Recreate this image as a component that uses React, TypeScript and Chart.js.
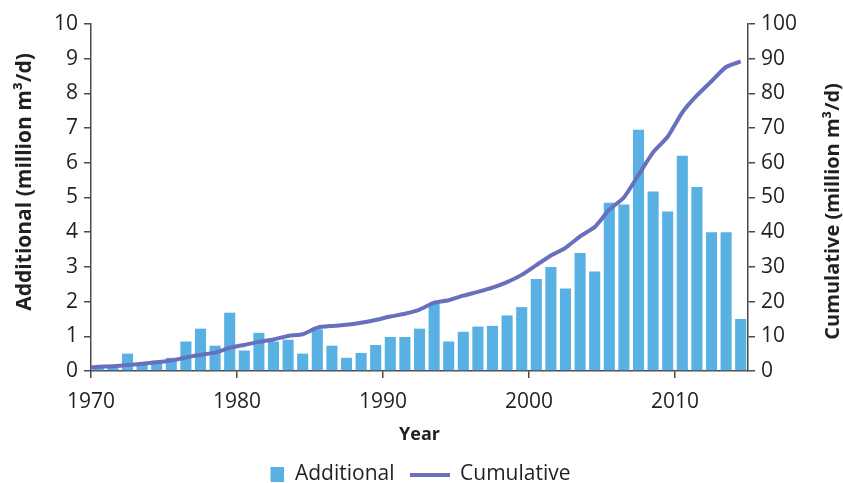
import React, { useEffect, useRef } from 'react';
import { Chart, registerables } from 'chart.js';

Chart.register(...registerables);

const years = [
  1970, 1971, 1972, 1973, 1974, 1975, 1976, 1977, 1978, 1979,
  1980, 1981, 1982, 1983, 1984, 1985, 1986, 1987, 1988, 1989,
  1990, 1991, 1992, 1993, 1994, 1995, 1996, 1997, 1998, 1999,
  2000, 2001, 2002, 2003, 2004, 2005, 2006, 2007, 2008, 2009,
  2010, 2011, 2012, 2013, 2014,
];

const additional = [
  0.1, 0.15, 0.5, 0.22, 0.3, 0.38, 0.85, 1.22, 0.73, 1.68,
  0.59, 1.1, 0.85, 0.9, 0.5, 1.2, 0.73, 0.38, 0.52, 0.75,
  0.98, 0.98, 1.22, 1.95, 0.85, 1.13, 1.28, 1.3, 1.6, 1.84,
  2.65, 3.0, 2.38, 3.4, 2.87, 4.85, 4.8, 6.95, 5.17, 4.6,
  6.2, 5.3, 4.0, 4.0, 1.5,
];

const cumulativeStart = { year: 1970, value: 1.0 };
const cumulative = [
  1.2, 1.4, 1.7, 2.1, 2.5, 3.0, 3.9, 4.7, 5.3, 6.7,
  7.5, 8.4, 9.1, 10.1, 10.6, 12.5, 13.0, 13.3, 13.9, 14.7,
  15.7, 16.5, 17.7, 19.7, 20.4, 21.7, 22.8, 24.0, 25.6, 27.7,
  30.5, 33.3, 35.5, 38.8, 41.5, 46.5, 50.0, 56.5, 63.0, 67.5,
  74.5, 79.4, 83.5, 87.6, 89.2,
];

const xTickYears = [1970, 1980, 1990, 2000, 2010];
const leftTitle = 'Additional (million m³/d)';
const rightTitle = 'Cumulative (million m³/d)';
const xTitle = 'Year';

const BAR_COLOR = '#58b0e3';
const LINE_COLOR = '#6870bd';
const AXIS_COLOR = '#4a4a4a';
const TEXT_COLOR = '#231f20';
const FONT = "'Open Sans', 'Noto Sans', sans-serif";

function makeSquareIcon(): HTMLCanvasElement {
  const c = document.createElement('canvas');
  c.width = 40;
  c.height = 15;
  const ctx = c.getContext('2d')!;
  ctx.fillStyle = BAR_COLOR;
  ctx.fillRect(26, 0, 14, 15);
  return c;
}

function makeLineIcon(): HTMLCanvasElement {
  const c = document.createElement('canvas');
  c.width = 40;
  c.height = 4;
  const ctx = c.getContext('2d')!;
  ctx.fillStyle = LINE_COLOR;
  ctx.fillRect(0, 0, 40, 4);
  return c;
}

const yTitlesPlugin = {
  id: 'yTitles',
  afterDraw(chart: any) {
    const { ctx, chartArea } = chart;
    const h = chartArea.bottom - chartArea.top;
    ctx.save();
    ctx.fillStyle = TEXT_COLOR;
    ctx.textAlign = 'center';
    ctx.textBaseline = 'middle';
    ctx.save();
    ctx.font = `bold 21px ${FONT}`;
    ctx.translate(25, chartArea.top + h * 0.455);
    ctx.rotate(-Math.PI / 2);
    ctx.fillText(leftTitle, 0, 0);
    ctx.restore();
    ctx.save();
    ctx.font = `bold 20px ${FONT}`;
    ctx.translate(chart.width - 10, chartArea.top + h * 0.54);
    ctx.rotate(-Math.PI / 2);
    ctx.fillText(rightTitle, 0, 0);
    ctx.restore();
    ctx.restore();
  },
};

export default function App() {
  const ref = useRef<HTMLCanvasElement | null>(null);

  useEffect(() => {
    document.body.style.margin = '0';
    if (!ref.current) return;
    const chart = new Chart(ref.current, {
      data: {
        datasets: [
          {
            type: 'bar',
            label: 'Additional',
            data: years.map((yr, i) => ({ x: yr + 0.5, y: additional[i] })),
            backgroundColor: BAR_COLOR,
            borderWidth: 0,
            barPercentage: 0.76,
            categoryPercentage: 1,
            yAxisID: 'y',
            xAxisID: 'x',
            order: 2,
            pointStyle: makeSquareIcon() as any,
          },
          {
            type: 'line',
            label: 'Cumulative',
            data: [
              { x: cumulativeStart.year, y: cumulativeStart.value },
              ...years.map((yr, i) => ({ x: yr + 0.5, y: cumulative[i] })),
            ],
            borderColor: LINE_COLOR,
            backgroundColor: LINE_COLOR,
            borderWidth: 4,
            pointRadius: 0,
            tension: 0.2,
            yAxisID: 'y1',
            xAxisID: 'x',
            order: 1,
            pointStyle: makeLineIcon() as any,
          },
        ] as any,
      },
      plugins: [yTitlesPlugin],
      options: {
        responsive: false,
        animation: false,
        layout: { padding: { top: 24, left: 0, right: 28, bottom: -12 } },
        plugins: {
          tooltip: { enabled: false },
          legend: {
            position: 'bottom',
            labels: {
              usePointStyle: true,
              pointStyleWidth: 40,
              boxHeight: 15,
              padding: 15,
              color: TEXT_COLOR,
              font: { family: FONT, size: 21 },
              sort: (a: any, b: any) => a.datasetIndex - b.datasetIndex,
            },
          },
        },
        scales: {
          x: {
            type: 'linear',
            min: 1970,
            max: 2015,
            offset: false,
            afterBuildTicks: (scale: any) => {
              scale.ticks = xTickYears.map((v) => ({ value: v }));
            },
            ticks: {
              color: TEXT_COLOR,
              font: { family: FONT, size: 21 },
              padding: 11,
              maxRotation: 0,
              autoSkip: false,
              callback: (v: any) => String(v),
            },
            grid: {
              offset: false,
              drawOnChartArea: false,
              drawTicks: true,
              tickLength: 7,
              color: AXIS_COLOR,
              lineWidth: 1.5,
            },
            border: { display: true, color: AXIS_COLOR, width: 1.5 },
            title: {
              display: true,
              text: xTitle,
              color: TEXT_COLOR,
              font: { family: FONT, size: 18, weight: 'bold' },
              padding: { top: 4, bottom: 3 },
            },
            afterFit: (scale: any) => {
              scale.height = 78;
            },
          },
          y: {
            type: 'linear',
            position: 'left',
            min: 0,
            max: 10,
            ticks: {
              stepSize: 1,
              color: TEXT_COLOR,
              font: { family: FONT, size: 21 },
              padding: 6,
            },
            grid: {
              drawOnChartArea: false,
              drawTicks: true,
              tickLength: 7,
              color: AXIS_COLOR,
              lineWidth: 1.5,
            },
            border: { display: true, color: AXIS_COLOR, width: 1.5 },
            afterFit: (scale: any) => {
              scale.width = 91;
            },
          },
          y1: {
            type: 'linear',
            position: 'right',
            min: 0,
            max: 100,
            ticks: {
              stepSize: 10,
              color: TEXT_COLOR,
              font: { family: FONT, size: 21 },
              padding: 6,
            },
            grid: {
              drawOnChartArea: false,
              drawTicks: true,
              tickLength: 7,
              color: AXIS_COLOR,
              lineWidth: 1.5,
            },
            border: { display: true, color: AXIS_COLOR, width: 1.5 },
            afterFit: (scale: any) => {
              scale.width = 67;
            },
          },
        },
      } as any,
    });
    return () => chart.destroy();
  }, []);

  return (
    <div style={{ width: 843, height: 483 }}>
      <canvas ref={ref} width={843} height={483} />
    </div>
  );
}
